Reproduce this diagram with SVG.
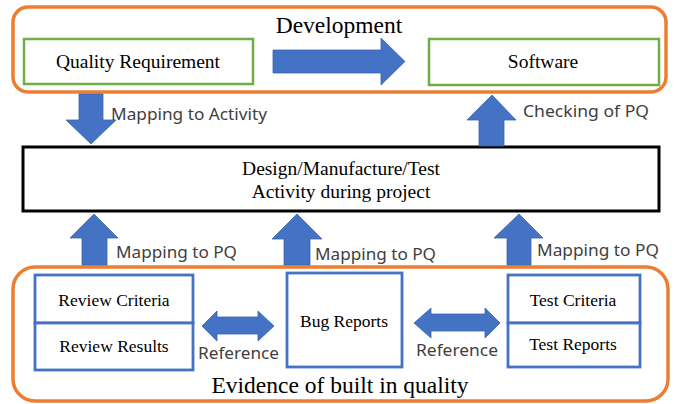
<svg xmlns="http://www.w3.org/2000/svg" width="676" height="404" viewBox="0 0 676 404">
<style>
.group{fill:none;stroke:#ED7D31;stroke-width:3.5}
.green{fill:#fff;stroke:#70AD47;stroke-width:2.5}
.blue{fill:#fff;stroke:#4472C4;stroke-width:2.8}
.black{fill:#fff;stroke:#000;stroke-width:3}
.arrow{fill:#4472C4;stroke:#3A64AE;stroke-width:0.8}
.serif{font-family:"Liberation Serif","Times New Roman",serif;fill:#000;text-anchor:middle}
.big{font-size:23.5px}
.mid{font-size:19.5px}
.small{font-size:17.5px}
.lbl{font-family:"Noto Sans","Liberation Sans",sans-serif;font-size:17px;fill:#404040}
</style>
<rect width="676" height="404" fill="#fff"/>
<g id="development">
<rect class="group" x="13" y="7" width="653" height="85" rx="15"/>
<text class="serif big" x="339" y="33">Development</text>
</g>
<g id="quality-requirement">
<rect class="green" x="24" y="39" width="229" height="45"/>
<text class="serif mid" x="138" y="68">Quality Requirement</text>
</g>
<g id="software">
<rect class="green" x="429" y="39" width="230" height="46"/>
<text class="serif mid" x="543" y="68">Software</text>
</g>
<g id="activity">
<rect class="black" x="23" y="147" width="636" height="64"/>
<text class="serif mid" x="341" y="175">Design/Manufacture/Test</text>
<text class="serif mid" x="341" y="198">Activity during project</text>
</g>
<g id="evidence">
<rect class="group" x="13" y="267" width="655" height="134" rx="22"/>
<text class="serif big" x="340" y="393">Evidence of built in quality</text>
</g>
<g id="review-criteria">
<rect class="blue" x="35" y="275" width="158" height="48"/>
<text class="serif small" x="114" y="306">Review Criteria</text>
</g>
<g id="review-results">
<rect class="blue" x="35" y="323" width="158" height="47"/>
<text class="serif small" x="114" y="352">Review Results</text>
</g>
<g id="bug-reports">
<rect class="blue" x="287" y="273" width="115" height="94"/>
<text class="serif small" x="344" y="327">Bug Reports</text>
</g>
<g id="test-criteria">
<rect class="blue" x="508" y="275" width="132" height="48"/>
<text class="serif small" x="573" y="306">Test Criteria</text>
</g>
<g id="test-reports">
<rect class="blue" x="508" y="323" width="132" height="44"/>
<text class="serif small" x="573" y="350">Test Reports</text>
</g>
<g id="connectors">
<polygon class="arrow" points="273,50 381,50 381,38 405,61.5 381,85 381,73 273,73"/>
<polygon class="arrow" points="79,94 103,94 103,120 116,120 91,144 66,120 79,120"/>
<text class="lbl" x="111" y="120" textLength="156" lengthAdjust="spacingAndGlyphs">Mapping to Activity</text>
<polygon class="arrow" points="492,95 516,120 504,120 504,146 479,146 479,120 467,120"/>
<text class="lbl" x="523" y="117" textLength="126" lengthAdjust="spacingAndGlyphs">Checking of PQ</text>
<polygon class="arrow" points="94,214 118,238 107,238 107,265 82,265 82,238 70,238"/>
<text class="lbl" x="116" y="258" textLength="121" lengthAdjust="spacingAndGlyphs">Mapping to PQ</text>
<polygon class="arrow" points="297,214 322,239 310,239 310,265 284,265 284,239 272,239"/>
<text class="lbl" x="315" y="260" textLength="121" lengthAdjust="spacingAndGlyphs">Mapping to PQ</text>
<polygon class="arrow" points="519,214 543,238 531,238 531,265 507,265 507,238 494,238"/>
<text class="lbl" x="537" y="256" textLength="122" lengthAdjust="spacingAndGlyphs">Mapping to PQ</text>
<polygon class="arrow" points="202,326 217,311 217,317 258,317 258,311 274,326 258,341 258,334 217,334 217,341"/>
<text class="lbl" x="198" y="359" textLength="81" lengthAdjust="spacingAndGlyphs">Reference</text>
<polygon class="arrow" points="414,323 431,308 431,314 485,314 485,308 500,323 485,338 485,331 431,331 431,338"/>
<text class="lbl" x="416" y="356" textLength="82" lengthAdjust="spacingAndGlyphs">Reference</text>
</g>
</svg>
